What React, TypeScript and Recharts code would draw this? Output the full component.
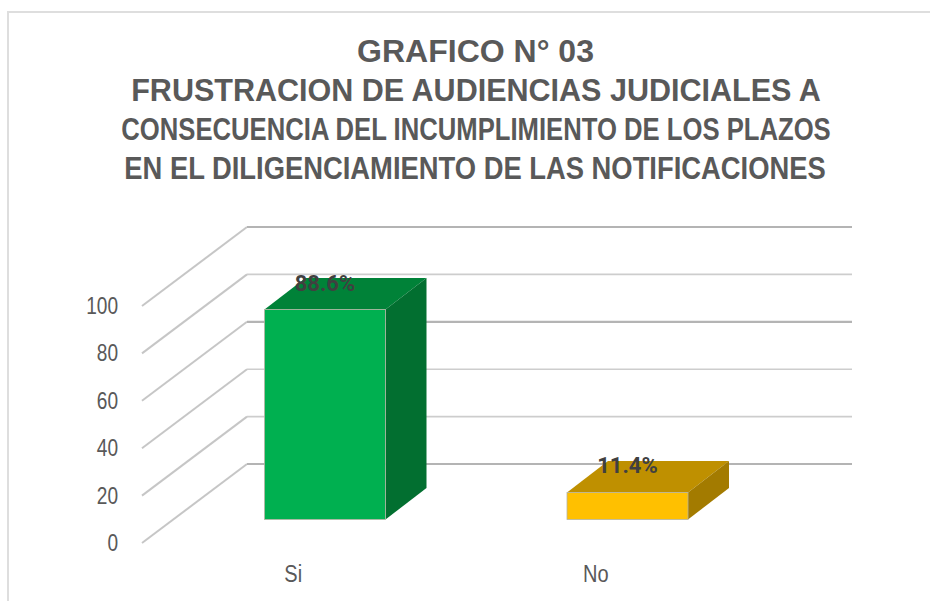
import { Bar, BarChart, CartesianGrid, XAxis, YAxis } from "recharts"

const categories = ["Si", "No"]
const percentages = [88.6, 11.4]
const yTicks = [0, 20, 40, 60, 80, 100]
const titleLines = [
  "GRAFICO N° 03",
  "FRUSTRACION DE AUDIENCIAS JUDICIALES A",
  "CONSECUENCIA DEL INCUMPLIMIENTO DE LOS PLAZOS",
  "EN EL DILIGENCIAMIENTO DE LAS NOTIFICACIONES",
]
const frontColors = ["#00B050", "#FFC000"]
const topColors = ["#008238", "#BF9000"]
const sideColors = ["#026F30", "#A37B00"]
// the original has some wall lines heavier than others, one per y tick
const wallLineHeavy = [true, false, false, true, false, true]

const data = categories.map((name, i) => ({ name, value: percentages[i] }))

// fake 3d: how far the back wall sits from the axis plane
const WALL_DX = 105
const WALL_DY = -79
// the bars stand part way into the floor
const BAR_DX = 31.5
const BAR_DY = -23.5
const DEPTH_DX = 41
const DEPTH_DY = -31.5

function GridLine(props: any) {
  const { x1, y1, x2, index } = props
  const heavy = wallLineHeavy[index]
  return (
    <g fill="none" key={y1}>
      <line x1={x1} y1={y1} x2={x1 + WALL_DX} y2={y1 + WALL_DY} stroke="#c6c6c6" strokeWidth={2} />
      <line
        x1={x1 + WALL_DX}
        y1={y1 + WALL_DY}
        x2={x2 + WALL_DX}
        y2={y1 + WALL_DY}
        stroke={heavy ? "#b4b4b4" : "#cdcdcd"}
        strokeWidth={heavy ? 2.2 : 1.6}
      />
    </g>
  )
}

function Box3D(props: any) {
  const { x, y, width, height, index, value } = props
  const left = x + BAR_DX
  const right = left + width
  const top = y + BAR_DY
  const bottom = top + height
  return (
    <g>
      <polygon
        points={`${left},${top} ${right},${top} ${right + DEPTH_DX},${top + DEPTH_DY} ${left + DEPTH_DX},${top + DEPTH_DY}`}
        fill={topColors[index]}
      />
      <polygon
        points={`${right},${top} ${right + DEPTH_DX},${top + DEPTH_DY} ${right + DEPTH_DX},${bottom + DEPTH_DY} ${right},${bottom}`}
        fill={sideColors[index]}
      />
      <rect x={left} y={top} width={width} height={height} fill={frontColors[index]} stroke="#b5b5a5" strokeWidth={0.8} />
      <text
        x={left + width / 2}
        y={top - 19}
        textAnchor="middle"
        fontFamily="Roboto"
        fontWeight={700}
        fontSize={22}
        fill="#404040"
      >
        {value}%
      </text>
    </g>
  )
}

// condensed text, squeezed with a transform since no narrow face is installed
function Squeezed(props: any) {
  const { x, y, scaleX, anchor = "middle", fontSize, bold, children } = props
  return (
    <text
      transform={`translate(${x},${y}) scale(${scaleX},1)`}
      textAnchor={anchor}
      fontFamily="'Liberation Sans'"
      fontWeight={bold ? 700 : 400}
      fontSize={fontSize}
      fill="#595959"
    >
      {children}
    </text>
  )
}

function YTick(props: any) {
  return (
    <Squeezed x={props.x} y={props.y + 8} scaleX={0.83} anchor="end" fontSize={23}>
      {props.payload.value}
    </Squeezed>
  )
}

function XTick(props: any) {
  return (
    <Squeezed x={props.x} y={props.y + 18} scaleX={0.87} fontSize={23}>
      {props.payload.value}
    </Squeezed>
  )
}

export default function App() {
  return (
    <div style={{ position: "absolute", left: 0, top: 0, width: 930, height: 601, overflow: "hidden", background: "#fff" }}>
      <div style={{ position: "absolute", left: 7, top: 11, width: 940, height: 620, border: "2px solid #dedede" }} />
      <BarChart
        width={930}
        height={601}
        data={data}
        barSize={121}
        margin={{ top: 306, right: 183, bottom: 0, left: 0 }}
        style={{ position: "absolute", left: 0, top: 0 }}
      >
        <Squeezed x={475.5} y={62} scaleX={1} fontSize={32} bold>
          {titleLines[0]}
        </Squeezed>
        <Squeezed x={476} y={101} scaleX={0.954} fontSize={32} bold>
          {titleLines[1]}
        </Squeezed>
        <Squeezed x={476} y={140} scaleX={0.802} fontSize={32} bold>
          {titleLines[2]}
        </Squeezed>
        <Squeezed x={475} y={179} scaleX={0.883} fontSize={31} bold>
          {titleLines[3]}
        </Squeezed>
        <CartesianGrid horizontal={GridLine as any} vertical={false} />
        <XAxis dataKey="name" height={58} axisLine={false} tickLine={false} tickMargin={15} tick={XTick} />
        <YAxis
          width={142}
          domain={[0, 100]}
          ticks={yTicks}
          axisLine={false}
          tickLine={false}
          tickMargin={18}
          tick={YTick}
        />
        <Bar dataKey="value" shape={Box3D} isAnimationActive={false} />
      </BarChart>
    </div>
  )
}
